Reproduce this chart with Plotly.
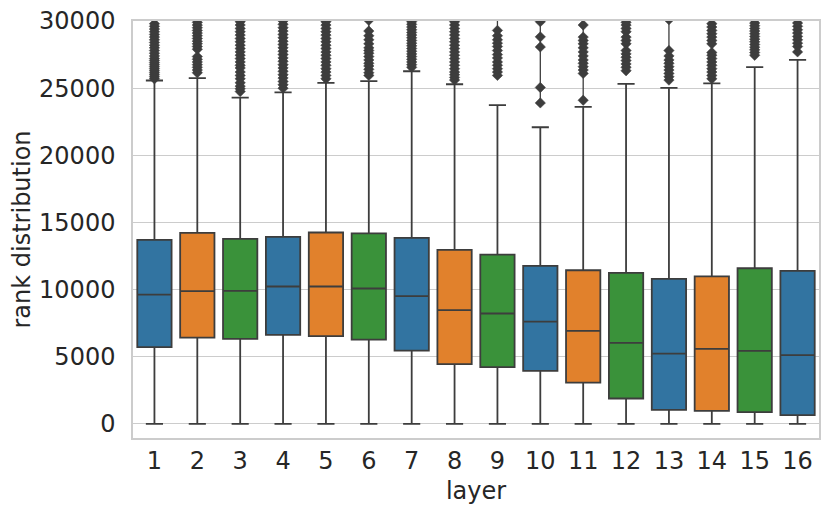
import plotly.graph_objects as go

layers = list(range(1, 17))
q1 = [5710, 6430, 6330, 6630, 6530, 6280, 5460, 4450, 4220, 3950, 3080, 1890, 1040, 970, 870, 650]
median = [9630, 9880, 9900, 10230, 10230, 10080, 9510, 8470, 8220, 7620, 6930, 6030, 5240, 5590, 5440, 5120]
q3 = [13700, 14220, 13780, 13930, 14250, 14180, 13850, 12960, 12610, 11770, 11440, 11240, 10800, 10980, 11590, 11390]
lower_whisker = [0] * 16
upper_whisker = [25570, 25740, 24300, 24680, 25390, 25520, 26260, 25290, 23730, 22090, 23600, 25320, 25020, 25350, 26560, 27100]

outliers = [
    [25700, 25850, 26000, 26150, 26300, 26450, 26600, 26750, 26900, 27050, 27200, 27400, 27600, 27800, 28000, 28200, 28400, 28600, 28800, 29000, 29200, 29400, 29600, 29800, 30200],
    [26150, 26350, 26550, 26750, 26950, 27150, 27350, 27900, 28100, 28300, 28500, 28700, 28900, 29100, 29300, 29500, 29700, 29900, 30300],
    [24750, 24950, 25150, 25400, 25700, 25950, 26200, 26500, 26700, 26950, 27200, 27450, 27700, 27950, 28200, 28450, 28700, 28950, 29200, 29450, 29700, 29950, 30300],
    [25000, 25250, 25500, 25750, 26000, 26250, 26500, 26750, 27000, 27250, 27500, 27750, 28000, 28250, 28500, 28750, 29000, 29250, 29500, 29750, 30000, 30300],
    [25700, 25950, 26200, 26450, 26700, 26950, 27200, 27450, 27700, 27950, 28200, 28450, 28700, 28950, 29200, 29450, 29700, 29950, 30300],
    [25950, 26150, 26400, 26650, 26850, 27100, 27350, 27600, 27800, 28000, 28300, 28600, 28900, 29250, 30050, 31000],
    [26550, 26750, 26950, 27150, 27350, 27550, 27750, 27950, 28150, 28350, 28550, 28750, 28950, 29150, 29350, 29550, 29750, 29950, 30300],
    [25600, 25800, 26000, 26200, 26450, 26700, 26950, 27200, 27450, 27700, 27950, 28200, 28450, 28700, 28950, 29200, 29450, 29700, 29950, 30300],
    [25950, 26200, 26450, 26700, 26950, 27250, 27500, 27800, 28100, 28350, 28600, 28900, 29300, 31500],
    [23900, 25050, 28070, 28820, 29950, 32000],
    [24100, 26100, 26350, 26600, 26850, 27100, 27400, 27700, 28000, 28300, 28550, 28800, 29700, 31500],
    [26300, 26550, 26800, 27050, 27300, 27550, 27800, 28300, 28550, 28800, 29200, 29450, 29700, 29900, 31000],
    [25600, 25850, 26100, 26350, 26600, 26850, 27100, 27400, 27800, 30100, 32000],
    [25700, 25950, 26200, 26450, 26700, 26950, 27200, 27450, 27650, 28300, 28550, 28800, 29050, 29300, 29550, 29800],
    [27450, 27650, 27850, 28050, 28250, 28450, 28650, 28850, 29050, 29250, 29450, 29650, 29850, 30100],
    [27700, 28100, 28350, 28600, 28850, 29100, 29350, 29600, 29850],
]

palette = ["#3274a1", "#e1812c", "#3a923a"]
y_ticks = [0, 5000, 10000, 15000, 20000, 25000, 30000]
y_tick_labels = ["0", "5000", "10000", "15000", "20000", "25000", "30000"]

edge = "#3d3d3d"
fig = go.Figure()
for i, layer in enumerate(layers):
    fig.add_trace(go.Box(
        x=[layer], q1=[q1[i]], median=[median[i]], q3=[q3[i]],
        lowerfence=[lower_whisker[i]], upperfence=[upper_whisker[i]],
        width=0.8, whiskerwidth=0.5,
        fillcolor=palette[i % 3],
        line=dict(color=edge, width=1.8),
        boxpoints=False, showlegend=False, hoverinfo="skip",
    ))
for i, layer in enumerate(layers):
    fig.add_trace(go.Scatter(
        x=[layer] * len(outliers[i]), y=outliers[i],
        mode="lines+markers",
        line=dict(color=edge, width=1.3),
        marker=dict(symbol="diamond", size=8, color=edge,
                    line=dict(color=edge, width=0.5)),
        showlegend=False, hoverinfo="skip", cliponaxis=True,
    ))

font_color = "#262626"
fig.update_layout(
    width=822, height=509,
    margin=dict(l=125, r=11, t=13, b=79),
    paper_bgcolor="white", plot_bgcolor="white",
    boxmode="overlay",
    font=dict(family="DejaVu Sans", size=24, color=font_color),
    xaxis=dict(
        range=[0.5, 16.5], tickmode="array", tickvals=layers,
        ticktext=[str(v) for v in layers],
        tickfont=dict(size=24, color=font_color),
        showgrid=False, zeroline=False, automargin=False,
        showline=True, mirror=True, linecolor="#cccccc", linewidth=1.5,
        ticks="", ticklabelstandoff=0, ticklabeloverflow="allow",
        title=dict(text="layer", font=dict(size=24, color=font_color), standoff=9),
    ),
    yaxis=dict(
        range=[-1050, 30000], tickmode="array", tickvals=y_ticks,
        ticktext=y_tick_labels,
        tickfont=dict(size=24, color=font_color),
        showgrid=True, gridcolor="#cccccc", gridwidth=1.2, zeroline=False,
        automargin=False,
        showline=True, mirror=True, linecolor="#cccccc", linewidth=1.5,
        ticks="", ticklabelstandoff=11, ticklabeloverflow="allow",
        title=dict(text="rank distribution", font=dict(size=24, color=font_color), standoff=4),
    ),
)
fig.write_html("out.html")
